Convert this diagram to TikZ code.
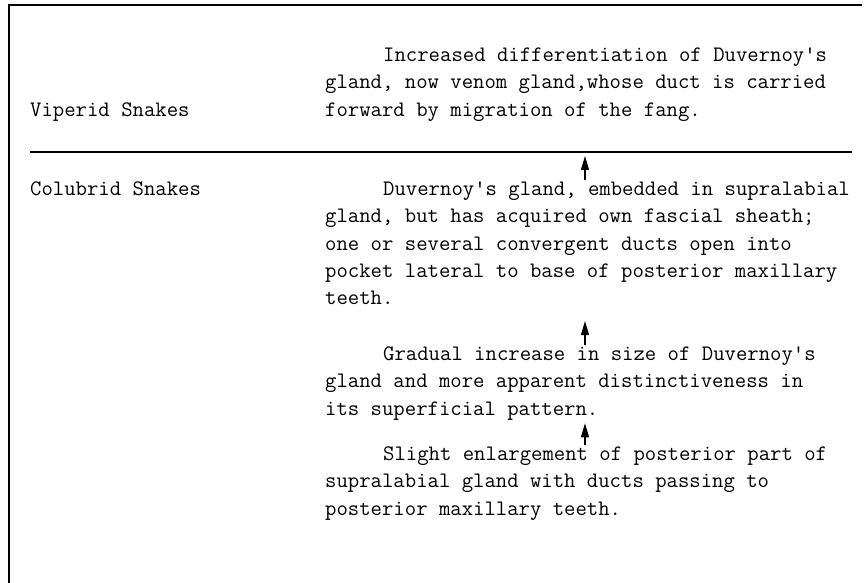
\documentclass[tikz,border=0pt]{standalone}
\usepackage{fontspec}
\newfontfamily\typer[Ligatures=TeXOff]{Latin Modern Mono}
\usetikzlibrary{arrows.meta}
\begin{document}
\begin{tikzpicture}[x=1pt,y=-1pt,
    every node/.style={inner sep=0pt, font=\typer\fontsize{22.1}{27.3}\selectfont},
    block/.style={anchor=north west, align=left},
    up/.style={-{Triangle[length=14pt,width=8pt]}, line width=1.1pt}]
    \useasboundingbox (0,0) rectangle (865,583);
    % frame and divider
    \coordinate (TL) at (9,5);
    \coordinate (TR) at (862,5);
    \coordinate (BL) at (9,583);
    \coordinate (ML) at (30,152);
    \coordinate (MR) at (852,152);
    \coordinate (AX) at (585,0);
    \draw [line width=1.4pt] (TR) -- (TL) -- (BL);
    \draw [line width=1.4pt] (ML) -- (MR);
    % groups
    \node [anchor=base west] (Vip) at (30,117) {Viperid Snakes};
    \node [anchor=base west] (Col) at (30,195) {Colubrid Snakes};
    % stages
    \node [block] (V1) at (325,47.6) {\hspace*{2.625em}Increased differentiation of Duvernoy's\\gland, now venom gland,whose duct is carried\\forward by migration of the fang.};
    \node [block] (C1) at (325,181.6) {\hspace*{2.625em}Duvernoy's gland, embedded in supralabial\\gland, but has acquired own fascial sheath;\\one or several convergent ducts open into\\pocket lateral to base of posterior maxillary\\teeth.};
    \node [block] (C2) at (325,346.6) {\hspace*{2.625em}Gradual increase in size of Duvernoy's\\gland and more apparent distinctiveness in\\its superficial pattern.};
    \node [block] (C3) at (325,446.6) {\hspace*{2.625em}Slight enlargement of posterior part of\\supralabial gland with ducts passing to\\posterior maxillary teeth.};
    \path [up, shorten <=2pt, shorten >=4pt] (C1.north -| AX) edge (ML -| AX);
    \path [up, shorten <=2pt, shorten >=16pt] (C2.north -| AX) edge (C1.south -| AX);
    \path [up, shorten <=2pt, shorten >=3pt] (C3.north -| AX) edge (C2.south -| AX);
\end{tikzpicture}
\end{document}
